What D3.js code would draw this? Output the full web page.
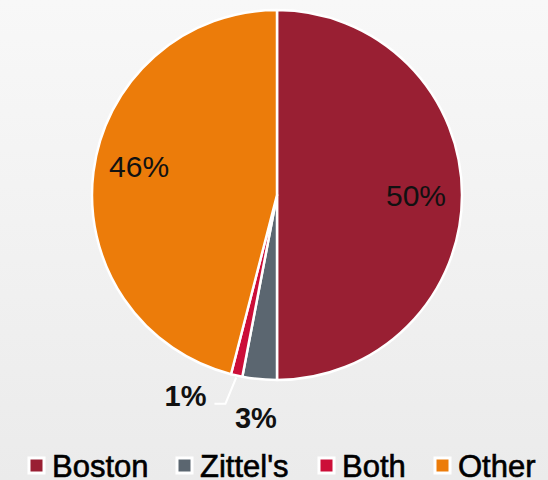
<!DOCTYPE html>
<html>
<head>
<meta charset="utf-8">
<script src="https://cdn.jsdelivr.net/npm/d3@7"></script>
<style>
  html, body { margin: 0; padding: 0; }
  body { width: 548px; height: 480px; overflow: hidden; }
  text { font-family: "Liberation Sans", Arial, sans-serif; }
</style>
</head>
<body>
<div class="share-pie"></div>
<script>
// share by name
const categories = ['Boston', "Zittel's", 'Both', 'Other'];
const shares = [50, 3, 1, 46];
const sliceColors = ['#991f33', '#5b6670', '#cc0e38', '#ec7c0a'];
const insideLabel = [true, false, false, true];

const width = 548;
const height = 480;
const cx = 277, cy = 195, radius = 185;

const svg = d3.select('.share-pie')
    .append('svg')
    .attr('width', width)
    .attr('height', height);

// soft grey background
const grad = svg.append('defs').append('linearGradient')
    .attr('id', 'bg').attr('x1', 0).attr('y1', 0).attr('x2', 0).attr('y2', 1);
grad.append('stop').attr('offset', '0%').attr('stop-color', '#f8f8f8');
grad.append('stop').attr('offset', '100%').attr('stop-color', '#ebebeb');
svg.append('rect').attr('width', width).attr('height', height).attr('fill', 'url(#bg)');

const data = categories.map((c, i) => ({name: c, value: shares[i], color: sliceColors[i], inside: insideLabel[i]}));

const pie = d3.pie().sort(null).value(d => d.value);
const arcs = pie(data);

const arc = d3.arc().innerRadius(0).outerRadius(radius);
const labelArc = d3.arc().innerRadius(139).outerRadius(139);
const outerArc = d3.arc().innerRadius(224).outerRadius(224);

const g = svg.append('g').attr('transform', `translate(${cx},${cy})`);

g.selectAll('path.slice')
    .data(arcs)
    .enter()
    .append('path')
    .attr('class', 'slice')
    .attr('d', arc)
    .attr('fill', d => d.data.color)
    .attr('stroke', '#fff')
    .attr('stroke-width', 2.5)
    .attr('stroke-linejoin', 'round');

const fmt = d => Math.round(d.data.value) + '%';

// excel's best-fit moved the left label up a little
const labelLift = {Other: -11};

g.selectAll('text.inside')
    .data(arcs.filter(d => d.data.inside))
    .enter()
    .append('text')
    .attr('class', 'inside')
    .attr('x', d => labelArc.centroid(d)[0])
    .attr('y', d => labelArc.centroid(d)[1] + (labelLift[d.data.name] || 0))
    .attr('dy', '0.35em')
    .attr('text-anchor', 'middle')
    .attr('font-size', 30)
    .attr('fill', '#111')
    .text(fmt);

// outside labels; the thinnest slice gets pushed left with a leader line
const outside = arcs.filter(d => !d.data.inside);
const thin = outside.reduce((a, b) => (a.data.value < b.data.value ? a : b));

outside.forEach(d => {
    const mid = (d.startAngle + d.endAngle) / 2;
    if (d === thin) {
        const p0 = [Math.sin(mid) * (radius + 2), -Math.cos(mid) * (radius + 2)];
        const elbow = [Math.sin(mid) * 218 - 4, -Math.cos(mid) * 218 - 4];
        const p2 = [elbow[0] - 11, elbow[1]];
        g.append('polyline')
            .attr('points', [p0, elbow, p2].map(p => p.join(',')).join(' '))
            .attr('fill', 'none')
            .attr('stroke', '#fff')
            .attr('stroke-width', 2);
        g.append('text')
            .attr('x', p2[0] - 8)
            .attr('y', p2[1] + 2)
            .attr('text-anchor', 'end')
            .attr('font-size', 29)
            .attr('font-weight', 'bold')
            .attr('fill', '#111')
            .text(fmt(d));
    } else {
        const c = outerArc.centroid(d);
        g.append('text')
            .attr('x', c[0])
            .attr('y', c[1])
            .attr('dy', '0.35em')
            .attr('text-anchor', 'middle')
            .attr('font-size', 29)
            .attr('font-weight', 'bold')
            .attr('fill', '#111')
            .text(fmt(d));
    }
});

// legend across the bottom
const legendStarts = {Boston: 27, "Zittel's": 175, Both: 317, Other: 433};

const leg = svg.append('g').attr('transform', 'translate(0,466)');
const items = leg.selectAll('g.item')
    .data(data)
    .enter()
    .append('g')
    .attr('class', 'item')
    .attr('transform', d => `translate(${legendStarts[d.name]},0)`);

items.append('rect')
    .attr('x', 2).attr('y', -8)
    .attr('width', 15).attr('height', 15)
    .attr('fill', d => d.color)
    .attr('stroke', '#fff')
    .attr('stroke-width', 3);

items.append('text')
    .attr('x', 25)
    .attr('y', 11)
    .attr('font-size', 31)
    .attr('fill', '#000')
    .attr('stroke', '#000')
    .attr('stroke-width', 0.6)
    .text(d => d.name);
</script>
</body>
</html>
